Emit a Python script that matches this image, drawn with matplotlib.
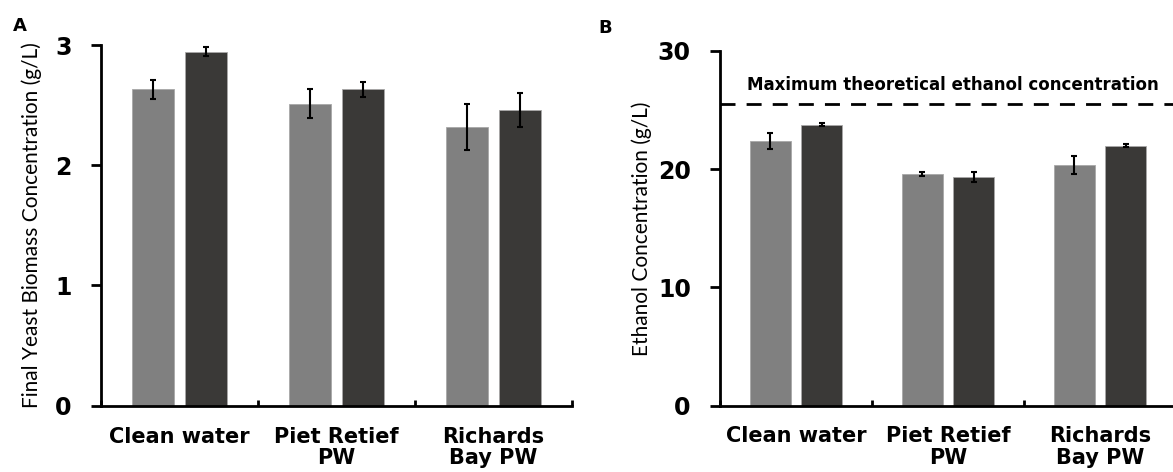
import numpy as np
import matplotlib
matplotlib.use("Agg")
import matplotlib.pyplot as plt

# categories and measured means / standard deviations
categories = ["Clean water", "Piet Retief\nPW", "Richards\nBay PW"]

biomass_light = [2.63, 2.51, 2.32]
biomass_light_err = [0.08, 0.12, 0.19]
biomass_dark = [2.945, 2.63, 2.46]
biomass_dark_err = [0.035, 0.065, 0.14]

ethanol_light = [22.4, 19.6, 20.35]
ethanol_light_err = [0.7, 0.2, 0.8]
ethanol_dark = [23.77, 19.34, 22.0]
ethanol_dark_err = [0.15, 0.45, 0.1]

max_theoretical = 25.5

LIGHT = "#808080"
DARK = "#3a3937"
W, H = 1173, 472


def axes_box(left, right, top, bottom):
    return [left / W, 1 - bottom / H, (right - left) / W, (bottom - top) / H]


def draw_bars(ax, light, light_err, dark, dark_err):
    x = np.arange(len(categories))
    width = 0.268
    off = 0.168
    kw = dict(edgecolor="#a8a8a8", linewidth=0.6, zorder=2,
              error_kw=dict(ecolor="black", elinewidth=1.5, capsize=2.5, capthick=1.5))
    ax.bar(x - off, light, width, yerr=light_err, color=LIGHT, **kw)
    ax.bar(x + off, dark, width, yerr=dark_err, color=DARK, **kw)
    ax.set_xlim(-0.5, len(categories) - 0.5)
    ax.set_xticks(x)
    ax.set_xticklabels(categories, fontsize=15, fontweight="bold", linespacing=1.1)
    ax.tick_params(axis="x", which="major", length=0, pad=15)
    ax.set_xticks(np.arange(len(categories) + 1) - 0.5, minor=True)
    ax.tick_params(axis="x", which="minor", direction="in", length=4, width=2)
    ax.tick_params(axis="y", direction="out", length=7, width=2, labelsize=17, pad=14)
    for lab in ax.get_yticklabels():
        lab.set_fontweight("bold")
    for s in ["top", "right"]:
        ax.spines[s].set_visible(False)
    for s in ["left", "bottom"]:
        ax.spines[s].set_linewidth(2)


fig = plt.figure(figsize=(W / 100, H / 100), dpi=100)

axA = fig.add_axes(axes_box(101, 572, 45, 405.7))
draw_bars(axA, biomass_light, biomass_light_err, biomass_dark, biomass_dark_err)
axA.set_ylim(0, 3)
axA.set_yticks([0, 1, 2, 3])
axA.set_ylabel("Final Yeast Biomass Concentration (g/L)", family="Lato", fontsize=15)
axA.yaxis.set_label_coords(-69 / 471, 0.5)
axA.yaxis.label.set_verticalalignment("center")

axB = fig.add_axes(axes_box(720, 1176, 51, 405.5))
draw_bars(axB, ethanol_light, ethanol_light_err, ethanol_dark, ethanol_dark_err)
axB.set_ylim(0, 30)
axB.set_yticks([0, 10, 20, 30])
axB.set_ylabel("Ethanol Concentration (g/L)", family="Lato", fontsize=15)
axB.yaxis.set_label_coords(-78 / 456, 0.5)
axB.yaxis.label.set_verticalalignment("center")
axB.axhline(max_theoretical, color="black", linestyle=(0, (5.4, 4)), linewidth=2, zorder=1)
axB.text(0.51, max_theoretical + 0.9, "Maximum theoretical ethanol concentration",
         transform=axB.get_yaxis_transform(), fontsize=12, fontweight="bold",
         ha="center", va="bottom")

fig.text(13 / W, 1 - 31 / H, "A", fontsize=13, fontweight="bold")
fig.text(598 / W, 1 - 33 / H, "B", fontsize=13, fontweight="bold")

fig.savefig("out.png", dpi=100)
